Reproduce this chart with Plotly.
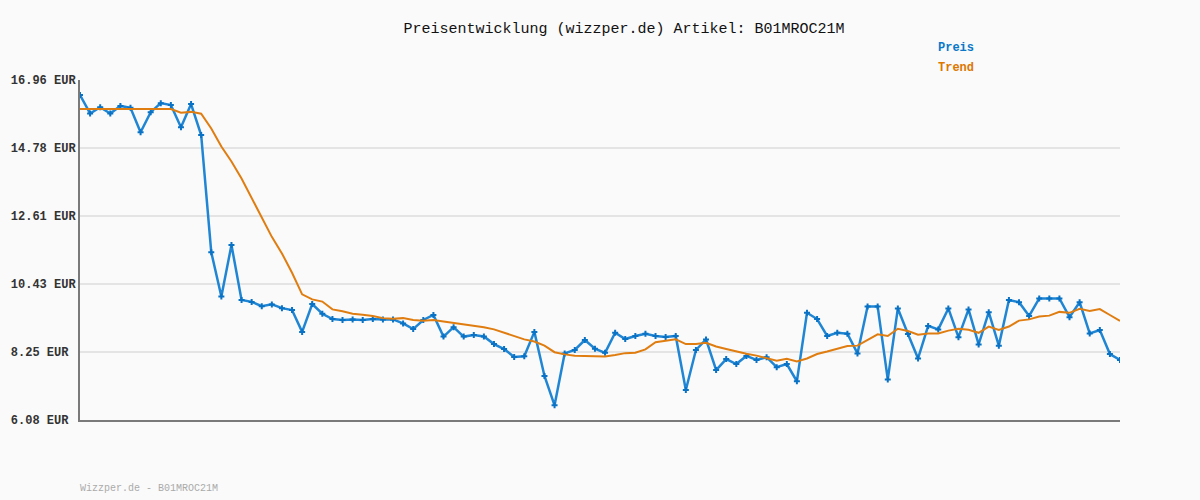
import plotly.graph_objects as go

title_text = "Preisentwicklung (wizzper.de) Artikel: B01MROC21M"
footer_text = "Wizzper.de - B01MROC21M"

preis = [16.48, 15.89, 16.09, 15.89, 16.13, 16.07, 15.29, 15.93, 16.22, 16.16,
         15.45, 16.19, 15.20, 11.45, 10.03, 11.68, 9.92, 9.86, 9.72, 9.78,
         9.66, 9.60, 8.90, 9.79, 9.48, 9.31, 9.28, 9.30, 9.28, 9.31,
         9.30, 9.30, 9.17, 8.99, 9.28, 9.44, 8.75, 9.05, 8.75, 8.80,
         8.75, 8.51, 8.35, 8.10, 8.12, 8.90, 7.49, 6.55, 8.21, 8.32,
         8.64, 8.36, 8.23, 8.87, 8.67, 8.77, 8.84, 8.77, 8.74, 8.77,
         7.04, 8.32, 8.66, 7.68, 8.03, 7.87, 8.13, 8.00, 8.09, 7.77,
         7.87, 7.32, 9.51, 9.31, 8.77, 8.87, 8.84, 8.21, 9.71, 9.71,
         7.38, 9.65, 8.83, 8.05, 9.09, 8.98, 9.65, 8.73, 9.62, 8.50,
         9.53, 8.46, 9.92, 9.85, 9.41, 9.97, 9.97, 9.97, 9.37, 9.85,
         8.85, 8.96, 8.19, 8.00]

trend = [16.03, 16.03, 16.03, 16.03, 16.03, 16.03, 16.03, 16.03, 16.03, 16.03,
         15.91, 15.94, 15.88, 15.41, 14.83, 14.35, 13.81, 13.17, 12.53, 11.94,
         11.41, 10.79, 10.10, 9.94, 9.87, 9.62, 9.56, 9.48, 9.45, 9.41,
         9.34, 9.32, 9.34, 9.28, 9.26, 9.28, 9.23, 9.19, 9.14, 9.10,
         9.05, 8.98, 8.87, 8.76, 8.66, 8.59, 8.46, 8.25, 8.18, 8.14,
         8.13, 8.12, 8.11, 8.16, 8.22, 8.23, 8.34, 8.57, 8.61, 8.66,
         8.51, 8.51, 8.55, 8.43, 8.35, 8.27, 8.20, 8.14, 8.07, 7.98,
         8.04, 7.95, 8.05, 8.19, 8.27, 8.35, 8.45, 8.46, 8.63, 8.82,
         8.77, 9.00, 8.93, 8.81, 8.85, 8.85, 8.94, 9.00, 8.97, 8.87,
         9.07, 8.96, 9.07, 9.26, 9.30, 9.39, 9.42, 9.54, 9.51, 9.64,
         9.57, 9.63, 9.44, 9.25]

y_ticks = [6.08, 8.25, 10.43, 12.61, 14.78, 16.96]
y_labels = [f"{v:.2f} EUR" for v in y_ticks]
width_max = max(len(s) for s in y_labels)
y_labels_padded = [s + "\u00a0" * (width_max - len(s)) for s in y_labels]

x = list(range(len(preis)))

blue = "#2086d4"
orange = "#e07d10"

fig = go.Figure()
fig.add_trace(go.Scatter(
    x=x, y=preis, mode="lines+markers", name="Preis",
    line=dict(color=blue, width=2.5),
    marker=dict(symbol="cross", size=5, color="#0a72c4"),
    hoverinfo="y",
))
fig.add_trace(go.Scatter(
    x=x, y=trend, mode="lines", name="Trend",
    line=dict(color=orange, width=2),
    hoverinfo="y",
))

mono = "Liberation Mono, DejaVu Sans Mono, monospace"

fig.update_layout(
    width=1200, height=500,
    margin=dict(l=80, r=80, t=80, b=80),
    paper_bgcolor="#fafafa", plot_bgcolor="#fafafa",
    showlegend=False,
    title=dict(text=title_text, x=0.52, xanchor="center", y=0.944, yanchor="middle",
               font=dict(family=mono, size=15, color="#111111")),
    xaxis=dict(range=[0, len(preis) - 1], showgrid=False, zeroline=False,
               showticklabels=False, ticks="", showline=True,
               linecolor="#7a7a7a", linewidth=2),
    yaxis=dict(range=[y_ticks[0], y_ticks[-1]], tickvals=y_ticks, ticktext=y_labels_padded,
               showgrid=True, gridcolor="#e4e4e4", gridwidth=2, zeroline=False,
               showline=True, linecolor="#7a7a7a", linewidth=2, ticks="",
               tickfont=dict(family=mono, size=12, color="#333333", weight="bold")),
    annotations=[
        dict(text="<b>Preis</b>", xref="paper", yref="paper", x=0.823, y=1.093,
             xanchor="left", yanchor="middle", showarrow=False,
             font=dict(family=mono, size=12, color="#0a78c8")),
        dict(text="<b>Trend</b>", xref="paper", yref="paper", x=0.823, y=1.036,
             xanchor="left", yanchor="middle", showarrow=False,
             font=dict(family=mono, size=12, color="#dd7700")),
        dict(text=footer_text, xref="paper", yref="paper", x=-0.002, y=-0.202,
             xanchor="left", yanchor="middle", showarrow=False,
             font=dict(family=mono, size=10, color="#aaaaaa")),
    ],
)

fig.write_html("out.html", config={"displayModeBar": False},
               post_script="document.body.style.margin='0';document.body.style.background='#fafafa';")
